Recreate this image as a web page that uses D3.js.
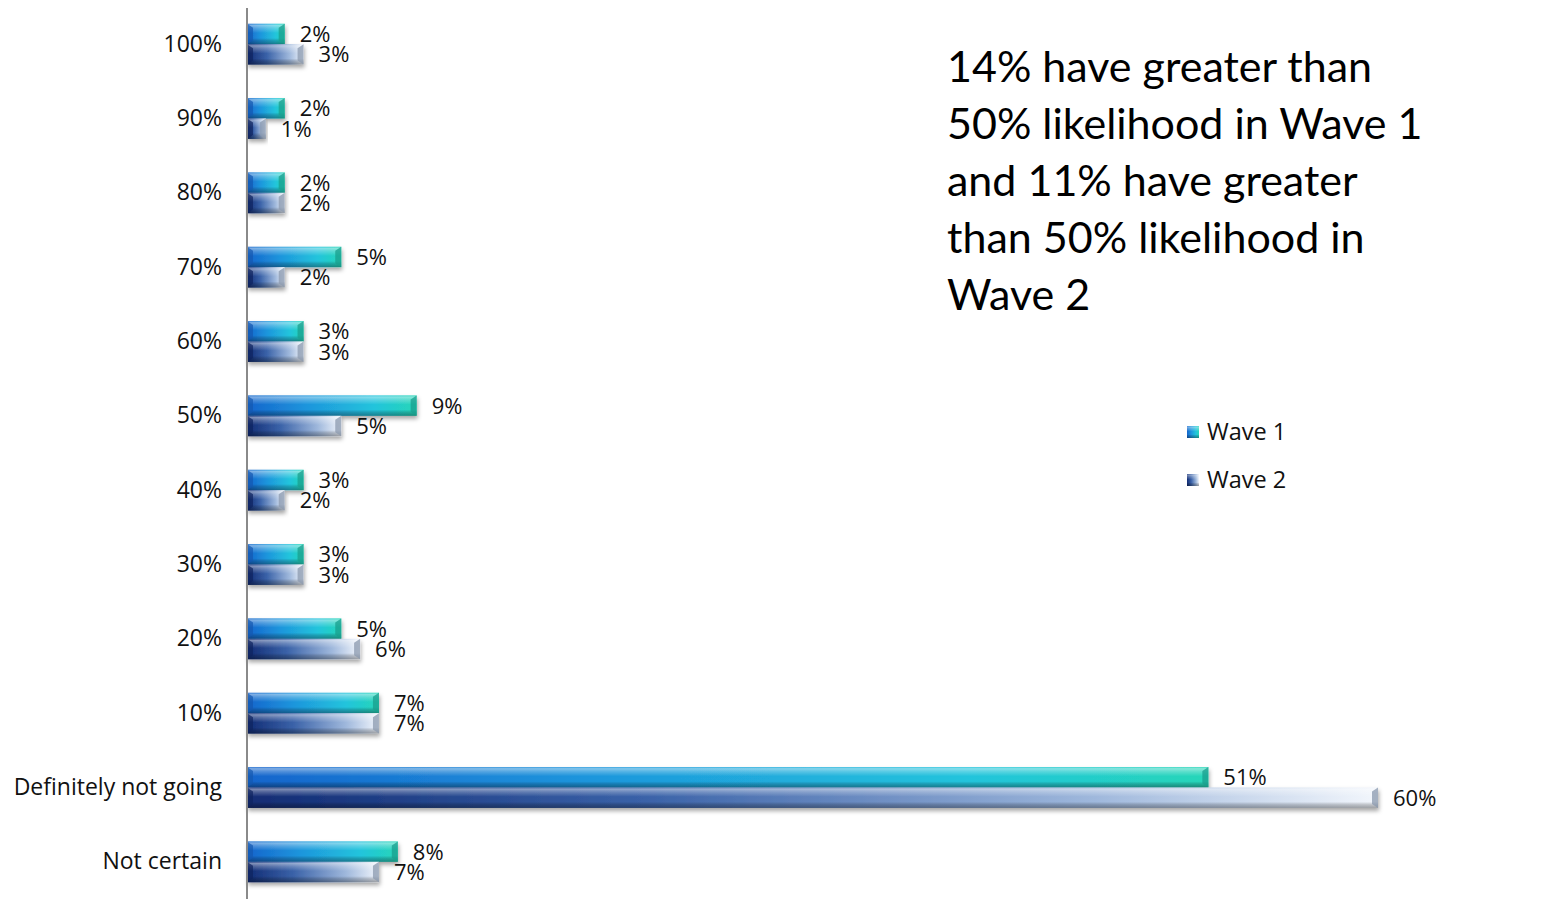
<!DOCTYPE html>
<html>
<head>
<meta charset="utf-8">
<script src="https://cdn.jsdelivr.net/npm/d3@7"></script>
<style>
  html, body { margin: 0; padding: 0; background: #ffffff; }
  svg { display: block; }
</style>
</head>
<body>
<svg id="chart" width="1546" height="899"></svg>
<script>
// Likelihood categories, top to bottom
const categories = ["100%", "90%", "80%", "70%", "60%", "50%", "40%", "30%", "20%", "10%", "Definitely not going", "Not certain"];
const seriesNames = ["Wave 1", "Wave 2"];
// Share of respondents (%) in each category
const wave1 = [2, 2, 2, 5, 3, 9, 3, 3, 5, 7, 51, 8];
const wave2 = [3, 1, 2, 2, 3, 5, 2, 3, 6, 7, 60, 7];
const calloutLines = [
  "14% have greater than",
  "50% likelihood in Wave 1",
  "and 11% have greater",
  "than 50% likelihood in",
  "Wave 2"
];

const svg = d3.select("#chart");
const axisX = 247;
const labelFont = "'Open Sans', sans-serif";

const x = d3.scaleLinear().domain([0, 60]).range([axisX, 1378]);
const y = d3.scaleBand().domain(categories).range([7, 899]).paddingInner(0.45).paddingOuter(0.225);
const ySub = d3.scaleBand().domain(seriesNames).range([0, y.bandwidth()]);

const defs = svg.append("defs");

// Horizontal body gradients, one per series
const bodyStops = {
  "Wave 1": [["0%", "#1565cc"], ["35%", "#1e95dc"], ["75%", "#22c4dc"], ["100%", "#26d6b8"]],
  "Wave 2": [["0%", "#122c74"], ["35%", "#3a62a8"], ["75%", "#9fb8dc"], ["100%", "#f2f6fc"]]
};
seriesNames.forEach((s, i) => {
  const g = defs.append("linearGradient").attr("id", "body" + i)
    .attr("x1", 0).attr("y1", 0).attr("x2", 1).attr("y2", 0);
  bodyStops[s].forEach(([o, c]) => g.append("stop").attr("offset", o).attr("stop-color", c));
});

// Vertical bevel: bright top lip, darker bottom lip
const bevel = defs.append("linearGradient").attr("id", "bevel")
  .attr("x1", 0).attr("y1", 0).attr("x2", 0).attr("y2", 1);
[["0%", "#ffffff", 0.10], ["8%", "#ffffff", 0.45], ["22%", "#ffffff", 0.25], ["45%", "#ffffff", 0.0],
 ["70%", "#000000", 0.0], ["82%", "#000000", 0.18], ["100%", "#000000", 0.35]]
  .forEach(([o, c, a]) => bevel.append("stop").attr("offset", o).attr("stop-color", c).attr("stop-opacity", a));

// Soft shadow under each bar
const shadow = defs.append("filter").attr("id", "shadow")
  .attr("x", "-5%").attr("y", "-30%").attr("width", "115%").attr("height", "200%");
shadow.append("feDropShadow").attr("dx", 1).attr("dy", 3).attr("stdDeviation", 2.2)
  .attr("flood-color", "#000").attr("flood-opacity", 0.35);

// Bars
const rows = categories.map((c, i) => ({ cat: c, values: [wave1[i], wave2[i]] }));
const rowG = svg.append("g").selectAll("g").data(rows).join("g")
  .attr("transform", d => `translate(0,${y(d.cat)})`);

const barData = d => d.values.map((v, i) => ({ series: seriesNames[i], idx: i, v }));

const bars = rowG.selectAll("g.bar").data(barData).join("g").attr("class", "bar");

bars.append("rect")
  .attr("x", x(0))
  .attr("y", d => ySub(d.series))
  .attr("width", d => x(d.v) - x(0))
  .attr("height", ySub.bandwidth())
  .attr("fill", d => `url(#body${d.idx})`)
  .attr("filter", "url(#shadow)");

bars.append("rect")
  .attr("x", x(0))
  .attr("y", d => ySub(d.series))
  .attr("width", d => x(d.v) - x(0))
  .attr("height", ySub.bandwidth())
  .attr("fill", "url(#bevel)");

// Beveled end caps on both sides
const capW = 6;
bars.append("path")
  .attr("d", d => {
    const x1 = x(d.v), y0 = ySub(d.series), h = ySub.bandwidth();
    return `M${x1},${y0} L${x1 - capW},${y0 + 4} L${x1 - capW},${y0 + h - 4} L${x1},${y0 + h} Z`;
  })
  .attr("fill", d => d.idx === 0 ? "#1a9e8e" : "#8a98ae")
  .attr("opacity", 0.75);
bars.append("path")
  .attr("d", d => {
    const x0 = x(0), y0 = ySub(d.series), h = ySub.bandwidth();
    return `M${x0},${y0} L${x0 + capW},${y0 + 4} L${x0 + capW},${y0 + h - 4} L${x0},${y0 + h} Z`;
  })
  .attr("fill", d => d.idx === 0 ? "#1458b0" : "#0e2460")
  .attr("opacity", 0.7);

// Value labels
bars.append("text")
  .attr("x", d => x(d.v) + 15)
  .attr("y", d => ySub(d.series) + ySub.bandwidth() / 2)
  .attr("dy", "0.36em")
  .attr("font-family", labelFont)
  .attr("font-size", 22)
  .attr("fill", "#111")
  .text(d => d.v + "%");

// Category axis
const yAxis = d3.axisLeft(y).tickSize(0).tickPadding(25);
const axG = svg.append("g").attr("transform", `translate(${axisX},0)`).call(yAxis);
axG.select(".domain").remove();
axG.selectAll("text")
  .attr("font-family", labelFont)
  .attr("font-size", 23)
  .attr("fill", "#111");
svg.append("line")
  .attr("x1", axisX).attr("x2", axisX).attr("y1", 8).attr("y2", 899)
  .attr("stroke", "#8a8a8a").attr("stroke-width", 2);

// Callout text
svg.append("text")
  .attr("font-family", "Lato, sans-serif")
  .attr("font-size", 43)
  .attr("fill", "#000")
  .selectAll("tspan").data(calloutLines).join("tspan")
  .attr("x", 947)
  .attr("y", (d, i) => 82 + i * 57)
  .text(d => d);

// Legend
const legend = svg.append("g").selectAll("g").data(seriesNames).join("g")
  .attr("transform", (d, i) => `translate(1187,${426 + i * 48})`);
legend.append("rect").attr("width", 12).attr("height", 12)
  .attr("fill", (d, i) => `url(#body${i})`);
legend.append("rect").attr("width", 12).attr("height", 12).attr("fill", "url(#bevel)");
legend.append("text")
  .attr("x", 20).attr("y", 6).attr("dy", "0.36em")
  .attr("font-family", labelFont)
  .attr("font-size", 23.5)
  .attr("fill", "#111")
  .text(d => d);
</script>
</body>
</html>
